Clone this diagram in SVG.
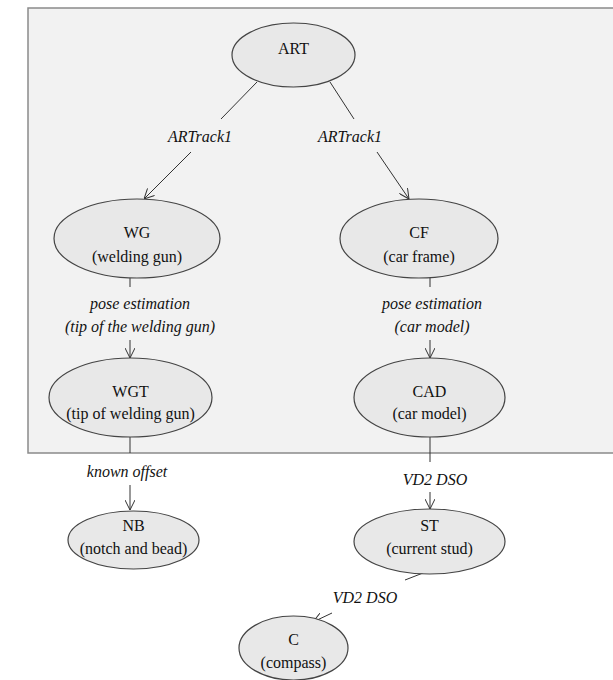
<svg xmlns="http://www.w3.org/2000/svg" width="613" height="680" viewBox="0 0 613 680">
<defs>
<marker id="arr" viewBox="0 0 10 10" refX="10" refY="5" markerWidth="10" markerHeight="10" markerUnits="userSpaceOnUse" orient="auto">
<path d="M0,0 L10,5 L0,10" fill="none" stroke="#333" stroke-width="1"/>
</marker>
<style>
.bg{fill:#f2f2f2;stroke:#8a8a8a;stroke-width:1.5}
.n{fill:#e8e8e8;stroke:#444;stroke-width:1.2}
text{fill:#111;text-anchor:middle}
.c{fill:none;stroke:#333;stroke-width:1}
</style>
</defs>
<rect x="0" y="0" width="613" height="680" fill="#ffffff"/>
<rect class="bg" x="28" y="8" width="600" height="445"/>
<g id="connectors">
<line class="c" x1="257" y1="82" x2="221" y2="119"/>
<line class="c" x1="191" y1="152" x2="144" y2="199" marker-end="url(#arr)"/>
<line class="c" x1="330" y1="82" x2="354" y2="119"/>
<line class="c" x1="377" y1="152" x2="409" y2="199" marker-end="url(#arr)"/>
<line class="c" x1="130" y1="278" x2="130" y2="287"/>
<line class="c" x1="130" y1="340" x2="130" y2="358" marker-end="url(#arr)"/>
<line class="c" x1="430" y1="278" x2="430" y2="287"/>
<line class="c" x1="430" y1="340" x2="430" y2="358" marker-end="url(#arr)"/>
<line class="c" x1="130" y1="437" x2="130" y2="453"/>
<line class="c" x1="130" y1="485" x2="130" y2="510" marker-end="url(#arr)"/>
<line class="c" x1="430" y1="437" x2="430" y2="462"/>
<line class="c" x1="430" y1="492" x2="430" y2="509" marker-end="url(#arr)"/>
<line class="c" x1="423" y1="573" x2="405" y2="580"/>
<line class="c" x1="332" y1="613" x2="313" y2="622" marker-end="url(#arr)"/>
<text font-family="Liberation Serif" font-size="16" font-style="italic" x="200" y="142">ARTrack1</text>
<text font-family="Liberation Serif" font-size="16" font-style="italic" x="350" y="142">ARTrack1</text>
<text font-family="Liberation Serif" font-size="16" font-style="italic" x="140" y="309">pose estimation</text>
<text font-family="Liberation Serif" font-size="16" font-style="italic" x="140" y="332">(tip of the welding gun)</text>
<text font-family="Liberation Serif" font-size="16" font-style="italic" x="432" y="309">pose estimation</text>
<text font-family="Liberation Serif" font-size="16" font-style="italic" x="432" y="332">(car model)</text>
<text font-family="Liberation Serif" font-size="16" font-style="italic" x="127" y="477">known offset</text>
<text font-family="Liberation Serif" font-size="16" font-style="italic" x="435" y="485">VD2 DSO</text>
<text font-family="Liberation Serif" font-size="16" font-style="italic" x="365" y="603">VD2 DSO</text>
</g>
<g id="ART">
<ellipse class="n" cx="293.5" cy="55" rx="61.5" ry="32"/>
<text font-family="Liberation Serif" font-size="16" x="293.5" y="54">ART</text>
</g>
<g id="WG">
<ellipse class="n" cx="137" cy="238.5" rx="83" ry="39.5"/>
<text font-family="Liberation Serif" font-size="16" x="137" y="238">WG</text>
<text font-family="Liberation Serif" font-size="16" x="137" y="262">(welding gun)</text>
</g>
<g id="CF">
<ellipse class="n" cx="419" cy="238.5" rx="79" ry="39.5"/>
<text font-family="Liberation Serif" font-size="16" x="419" y="238">CF</text>
<text font-family="Liberation Serif" font-size="16" x="419" y="262">(car frame)</text>
</g>
<g id="WGT">
<ellipse class="n" cx="130.5" cy="397.5" rx="81.5" ry="39.5"/>
<text font-family="Liberation Serif" font-size="16" x="130.5" y="397">WGT</text>
<text font-family="Liberation Serif" font-size="16" x="130.5" y="419">(tip of welding gun)</text>
</g>
<g id="CAD">
<ellipse class="n" cx="429.5" cy="397.5" rx="75.5" ry="39.5"/>
<text font-family="Liberation Serif" font-size="16" x="429.5" y="397">CAD</text>
<text font-family="Liberation Serif" font-size="16" x="429.5" y="419">(car model)</text>
</g>
<g id="NB">
<ellipse class="n" cx="133.5" cy="540" rx="65.5" ry="29"/>
<text font-family="Liberation Serif" font-size="16" x="133.5" y="531">NB</text>
<text font-family="Liberation Serif" font-size="16" x="133.5" y="554">(notch and bead)</text>
</g>
<g id="ST">
<ellipse class="n" cx="429.5" cy="541.5" rx="75.5" ry="32.5"/>
<text font-family="Liberation Serif" font-size="16" x="429.5" y="531">ST</text>
<text font-family="Liberation Serif" font-size="16" x="429.5" y="554">(current stud)</text>
</g>
<g id="C">
<ellipse class="n" cx="293.5" cy="648" rx="54.5" ry="32"/>
<text font-family="Liberation Serif" font-size="16" x="293.5" y="645">C</text>
<text font-family="Liberation Serif" font-size="16" x="293.5" y="668">(compass)</text>
</g>
</svg>
